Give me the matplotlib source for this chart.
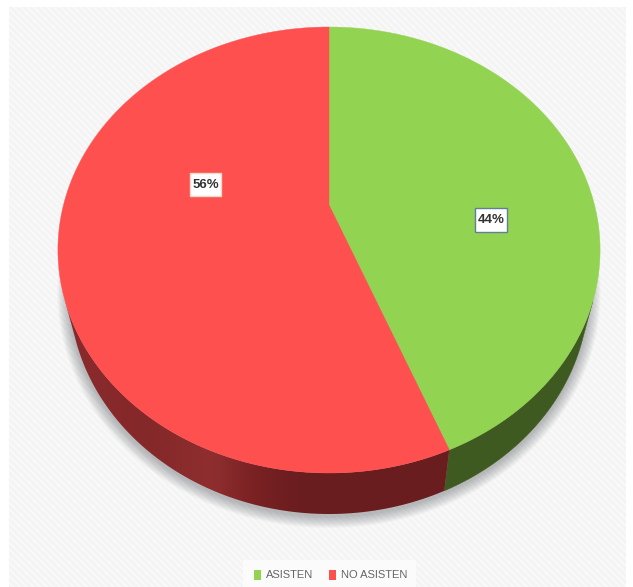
import numpy as np
import matplotlib
matplotlib.use("Agg")
import matplotlib.pyplot as plt
from matplotlib.colors import LinearSegmentedColormap
from matplotlib.patches import Rectangle, Polygon

categories = ["ASISTEN", "NO ASISTEN"]
values = [44, 56]
labels = ["44%", "56%"]
top_colors = ["#92d351", "#ff5050"]
green_side = "#3e5a20"
# red wall shading, left to right along the page
red_side_x = [60, 150, 212, 255, 300, 450]
red_side_c = ["#8b2a2d", "#852829", "#8f2e2f", "#7a2123", "#6a1d1f", "#6a1d1f"]

plt.rcParams["font.family"] = ["Liberation Sans", "DejaVu Sans"]

# tilted disc: unit circle -> page pixels, with some perspective
CX, APEX_Y, C, P, D = 329.0, 205.0, -0.2018, 172.55, 265.5
DEPTH = 41.0
BOTTOM_SCALE = 0.958


def project(theta):
    # theta is clockwise from 12 o'clock
    u = np.sin(theta)
    v = -np.cos(theta)
    w = 1 + C * v
    return CX + D * u / w, (APEX_Y + P * v) / w


def lower_rim(x, y):
    # the bottom of the disc is slightly smaller than the top
    return CX + (x - CX) * BOTTOM_SCALE, y + DEPTH


def wall(a0, a1):
    # only the front of the rim shows, the back stays hidden behind the top face
    grid = np.linspace(a0, a1, 400)
    x, y = project(grid)
    keep = y > 300
    x, y = x[keep], y[keep]
    bx, by = lower_rim(x, y)
    return np.r_[np.c_[x, y], np.c_[bx, by][::-1]]


fig = plt.figure(figsize=(6.33, 5.87), dpi=100, facecolor="white")
ax = fig.add_axes([0, 0, 1, 1])
ax.axis("off")

# striped panel
ax.add_patch(Rectangle((9, 7), 617, 580, facecolor="#f4f4f4", edgecolor="#fbfbfb", hatch="\\\\\\\\\\", linewidth=0, zorder=0))

# soft shadow under the disc
th = np.linspace(0, 2 * np.pi, 400)
sx, sy = project(th)
bx, by = lower_rim(sx, sy)
for px in range(12, 0, -1):
    gx = CX + (bx - CX) * (1 + px / 262)
    gy = 291 + (by - 291) * (1 + px / 224) + 2
    ax.add_patch(Polygon(np.c_[gx, gy], closed=True, facecolor="#4a4f55", alpha=0.035, edgecolor="none", zorder=1))

fractions = np.cumsum([0] + values) / sum(values)
angles = fractions * 2 * np.pi

# side walls
ax.add_patch(Polygon(wall(angles[0], angles[1]), closed=True, facecolor=green_side, edgecolor=green_side, linewidth=0.3, zorder=2))
red_wall = Polygon(wall(angles[1], angles[2]), closed=True, facecolor="none", edgecolor="none", zorder=2)
ax.add_patch(red_wall)
xs = np.array(red_side_x, dtype=float)
cmap = LinearSegmentedColormap.from_list("red_wall", list(zip((xs - xs[0]) / (xs[-1] - xs[0]), red_side_c)))
grad = ax.imshow(np.linspace(0, 1, 400)[None, :], cmap=cmap, extent=(xs[0], xs[-1], 530, 240), aspect="auto", zorder=2)
grad.set_clip_path(red_wall)

# top faces
for k in range(2):
    x, y = project(np.linspace(angles[k], angles[k + 1], 300))
    pts = np.r_[[[CX, APEX_Y]], np.c_[x, y]]
    ax.add_patch(Polygon(pts, closed=True, facecolor=top_colors[k], edgecolor=top_colors[k], linewidth=0.3, zorder=3))

# value labels in white boxes
ax.add_patch(Rectangle((475, 208), 32, 24, facecolor="white", edgecolor="#5f7f9a", linewidth=1, zorder=4))
ax.add_patch(Rectangle((190, 173), 31, 23, facecolor="white", edgecolor="#f3d9c8", linewidth=1, zorder=4))
ax.text(491, 220, labels[0], ha="center", va="center", fontsize=9.5, fontweight="bold", color="#333333", zorder=5)
ax.text(205.5, 184.5, labels[1], ha="center", va="center", fontsize=9.5, fontweight="bold", color="#333333", zorder=5)

# legend
ax.add_patch(Rectangle((243, 560), 173, 27, facecolor="#fbfbfb", edgecolor="none", zorder=4))
handles = [Rectangle((0, 0), 1, 1, facecolor=c, edgecolor="none") for c in top_colors]
ax.set_xlim(0, 633)
ax.set_ylim(587, 0)
leg = ax.legend(handles, categories, ncol=2, loc="center", bbox_to_anchor=(330.5 / 633, 1 - 575 / 587), frameon=False,
                fontsize=8, labelcolor="#666666", handlelength=0.7, handleheight=1.0, handletextpad=0.4, columnspacing=1.4)
leg.set_zorder(6)

fig.savefig("out.png", dpi=100)
